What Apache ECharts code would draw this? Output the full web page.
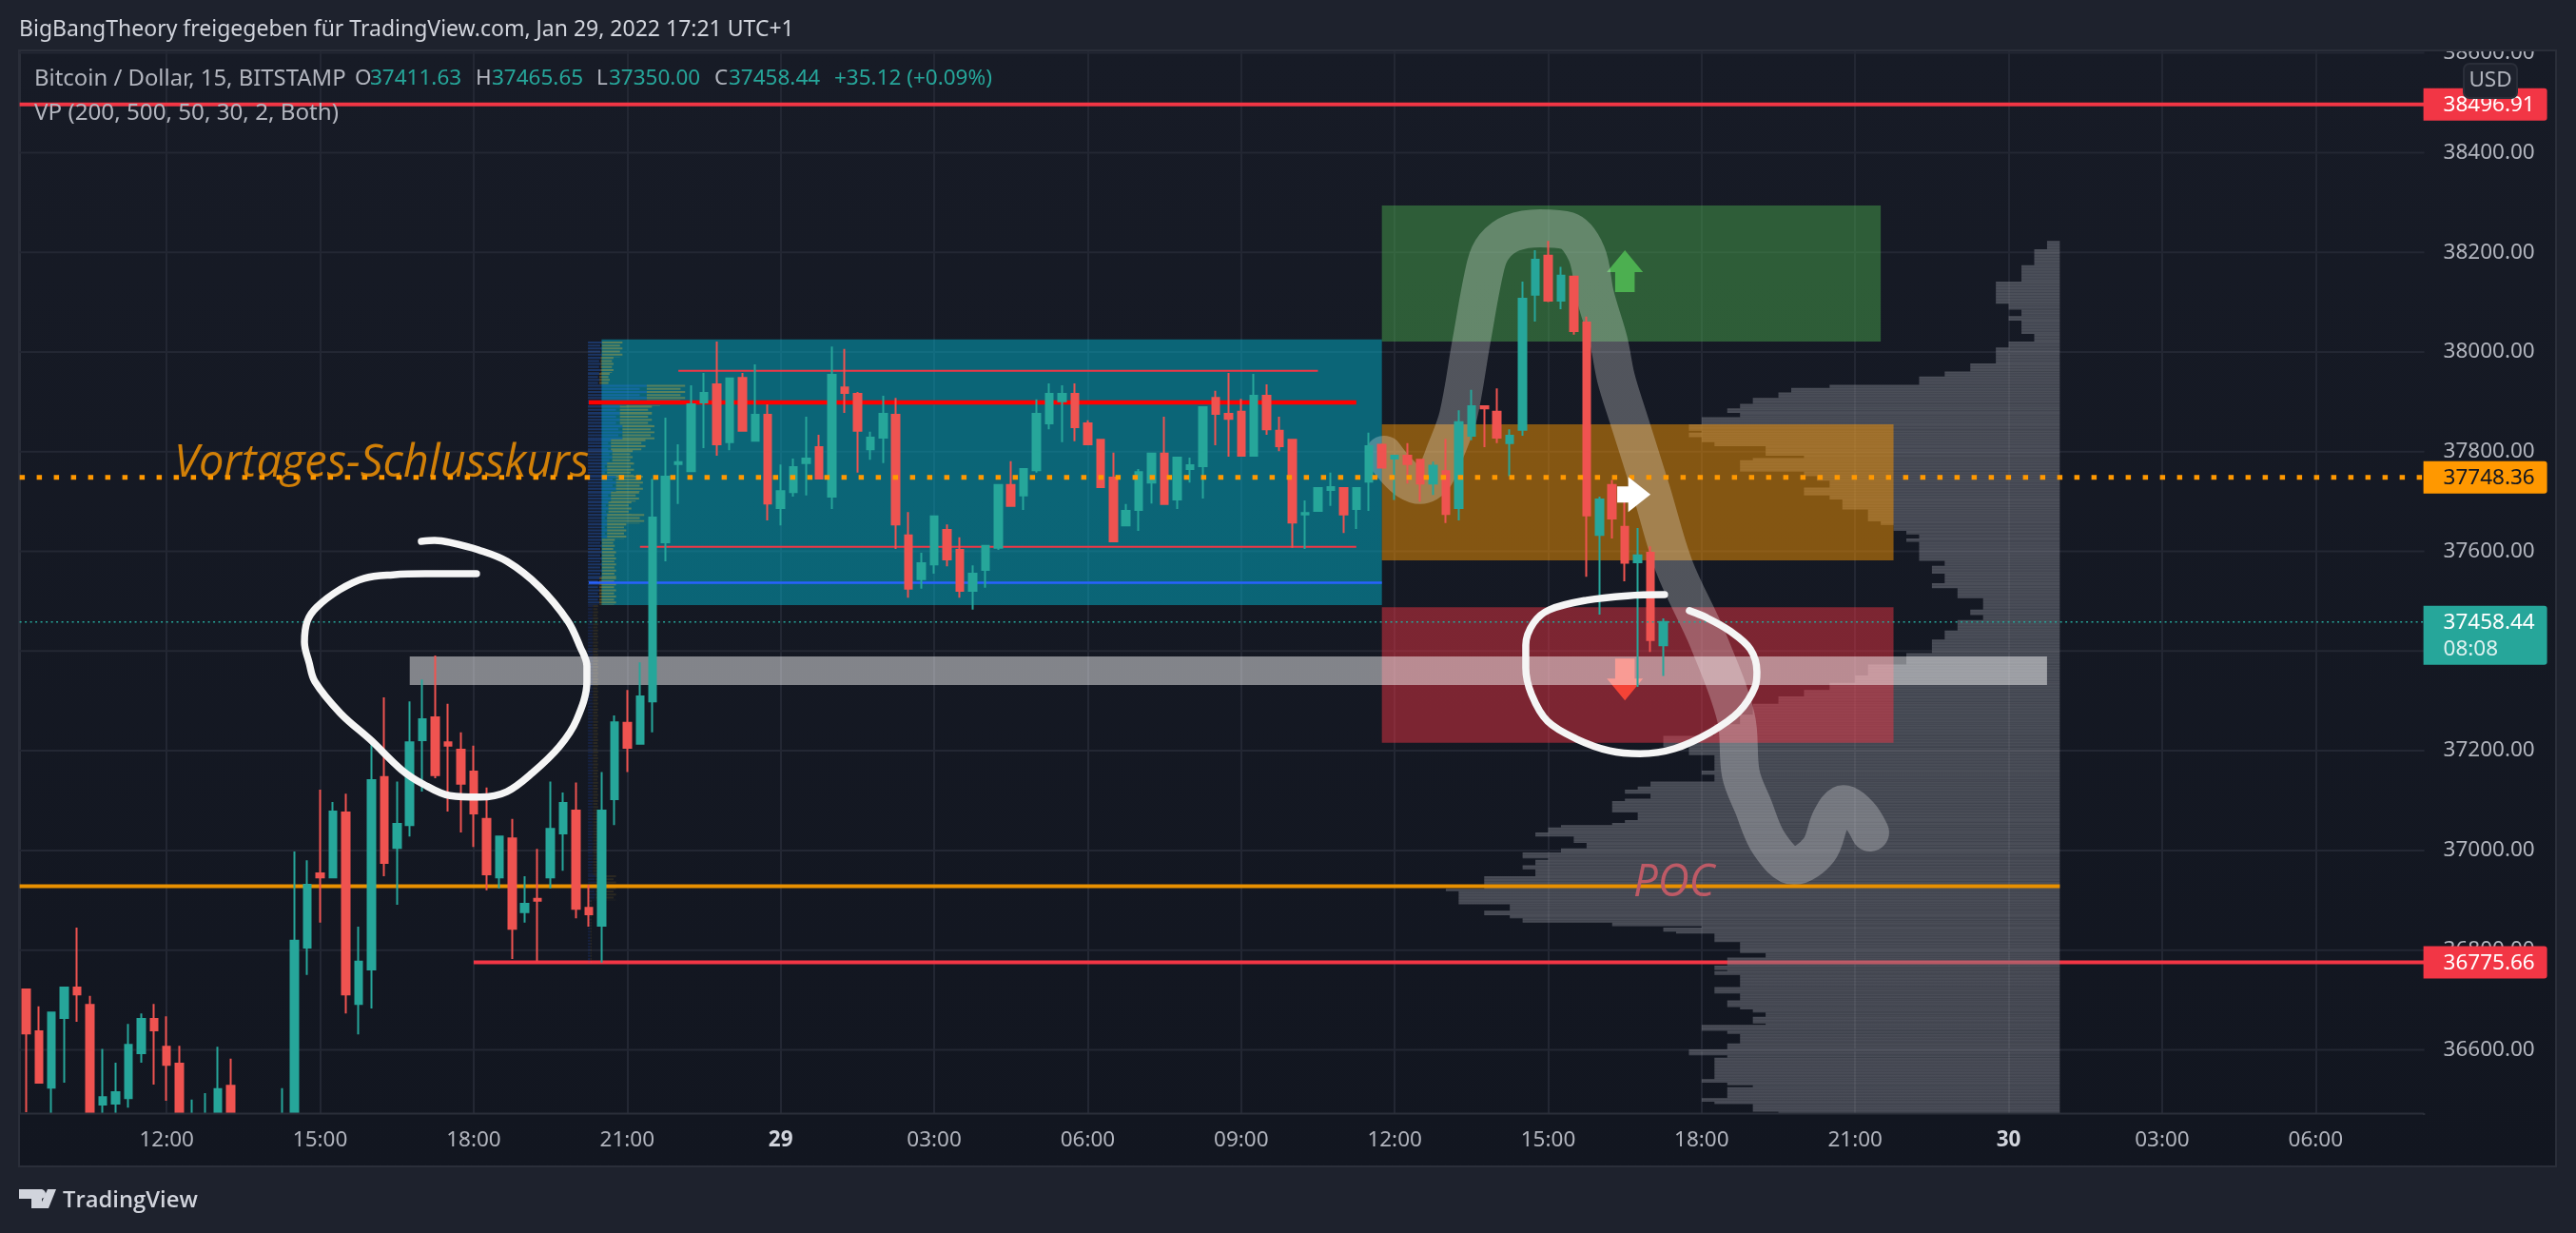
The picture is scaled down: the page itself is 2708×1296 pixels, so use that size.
<!DOCTYPE html>
<html><head><meta charset="utf-8"><title>BTC</title>
<style>html,body{margin:0;padding:0;background:#1e222d}#c{width:2708px;height:1296px}</style>
<script src="https://cdn.jsdelivr.net/npm/echarts@6/dist/echarts.min.js"></script></head>
<body><div id="c"></div>
<script>
// [open, close, low, high], 15-minute bars from Jan 28 09:15 (36468 = runs off the bottom of the pane)
const candles = [
[36721,36633,36475,36723],[36637,36534,36534,36687],[36524,36675,36468,36675],[36664,36725,36534,36725],[36725,36711,36656,36845],
[36690,36468,36468,36708],[36490,36505,36468,36602],[36492,36515,36468,36574],[36503,36610,36484,36652],[36593,36662,36574,36673],
[36662,36639,36530,36692],[36606,36570,36498,36667],[36572,36468,36468,36608],[36468,36469,36468,36500],[36468,36469,36468,36513],
[36468,36521,36468,36606],[36528,36468,36468,36582],[36468,36469,36468,36469],[36469,36468,36468,36469],[36468,36469,36468,36469],
[36468,36469,36468,36523],[36468,36819,36468,36998],[36805,36931,36750,36980],[36954,36946,36855,37122],[36946,37078,36946,37097],
[37076,36711,36673,37114],[36692,36777,36631,36847],[36761,37141,36683,37219],[37147,36975,36948,37307],[37005,37053,36891,37138],
[37051,37217,37028,37299],[37221,37263,37118,37343],[37267,37151,37145,37391],[37217,37210,37078,37294],[37202,37134,37036,37237],
[37158,37074,37007,37210],[37063,36952,36920,37126],[36946,37028,36924,37028],[37024,36843,36782,37063],[36876,36893,36855,36948],
[36903,36899,36778,37003],[36946,37043,36924,37138],[37034,37095,36959,37116],[37080,36883,36864,37136],[36885,36872,36847,36931],
[36849,37080,36775,37157],[37103,37257,37051,37271],[37256,37206,37157,37322],[37214,37309,37214,37377],[37299,37668,37237,37745],
[37618,37750,37580,37868],[37775,37779,37695,37815],[37761,37895,37761,37933],[37899,37918,37807,37958],[37935,37815,37792,38021],
[37819,37947,37803,37948],[37948,37842,37842,37958],[37822,37874,37821,37975],[37874,37696,37662,37895],[37687,37721,37652,37774],
[37719,37769,37710,37786],[37777,37786,37712,37870],[37809,37746,37746,37834],[37710,37954,37685,38011],[37929,37918,37878,38006],
[37916,37842,37758,37920],[37805,37828,37784,37840],[37828,37876,37777,37912],[37874,37654,37605,37908],[37632,37525,37507,37679],
[37544,37576,37525,37597],[37574,37670,37555,37670],[37643,37584,37570,37654],[37603,37521,37507,37628],[37521,37555,37483,37572],
[37563,37611,37527,37611],[37607,37733,37603,37733],[37733,37691,37691,37781],[37712,37765,37683,37765],[37763,37876,37758,37905],
[37857,37916,37845,37937],[37901,37916,37819,37933],[37916,37849,37821,37937],[37857,37815,37815,37863],[37824,37729,37729,37824],
[37748,37620,37620,37798],[37652,37681,37652,37695],[37683,37759,37641,37765],[37738,37796,37696,37796],[37796,37695,37695,37870],
[37704,37788,37685,37790],[37765,37773,37738,37788],[37771,37889,37706,37889],[37908,37876,37813,37922],[37876,37866,37790,37958],
[37880,37792,37792,37906],[37792,37912,37792,37956],[37912,37845,37834,37935],[37842,37811,37801,37870],[37824,37658,37607,37826],
[37674,37677,37605,37702],[37681,37727,37681,37727],[37723,37729,37691,37758],[37727,37674,37637,37727],[37685,37727,37645,37727],
[37740,37811,37681,37838],[37814,37768,37768,37816],[37786,37792,37703,37793],[37792,37775,37736,37817],[37784,37736,37700,37784],
[37736,37772,37713,37780],[37761,37675,37657,37826],[37687,37859,37662,37883],[37832,37891,37823,37924],[37891,37887,37809,37891],
[37880,37828,37817,37927],[37817,37832,37751,37845],[37844,38107,37832,38141],[38115,38185,38061,38204],[38193,38103,38100,38223],
[38103,38153,38086,38171],[38151,38042,38035,38151],[38059,37672,37549,38071],[37633,37704,37473,37710],[37733,37666,37626,37743],
[37649,37577,37540,37700],[37578,37592,37328,37647],[37597,37422,37398,37610],[37411.63,37458.44,37350,37465.65]
];
const slotCount = 188;
const startMinutes = 9*60+15;
const gridPrices = [36600,36800,37000,37200,37400,37600,37800,38000,38200,38400,38600];

// Visible-range volume profile: top price of each step and its length in bars
const vpTops = [38223,38206,38174,38141,38097,38085,38072,38063,38036,38021,38009,37977,37961,37951,37934,37928,37919,37908,37896,37887,37878,37869,37855,37842,37838,37829,37819,37811,37792,37787,37783,37760,37751,37742,37728,37712,37704,37684,37660,37653,37641,37634,37626,37619,37581,37571,37555,37536,37526,37506,37483,37472,37462,37441,37423,37396,37373,37351,37336,37322,37309,37294,37272,37253,37230,37207,37191,37160,37152,37138,37128,37122,37114,37104,37099,37076,37061,37055,37051,37046,37036,37028,37015,37004,36996,36984,36981,36970,36962,36948,36923,36918,36892,36879,36870,36864,36855,36848,36845,36837,36833,36816,36794,36785,36769,36760,36758,36750,36726,36713,36699,36686,36681,36675,36666,36653,36650,36638,36632,36613,36601,36589,36584,36541,36534,36529,36525,36503,36496,36491,36476,36470];
const vpBars = [1,2,3,5,4,3,4,3,2,4,5,7,9,11,18,21,22,24,25,26,25,28,29,28,29,28,27,23,20,24,25,20,19,18,20,18,17,15,14,13,12,11,12,11,9,10,9,10,8,6,7,6,8,9,10,12,15,16,18,20,22,24,25,27,31,29,27,28,27,32,33,34,32,34,35,33,34,35,39,40,41,38,37,39,42,40,41,42,41,45,48,47,43,45,43,42,35,28,31,30,27,25,23,26,27,26,27,25,27,25,26,25,24,23,24,23,28,26,25,26,29,26,27,28,26,24,26,28,27,24,22];

// Session volume profile: top price, up-volume length, total length (bars)
const sessionTops = [38021,37990,37958,37934,37899,37892,37878,37853,37825,37803,37778,37752,37720,37700,37675,37656,37625,37600,37548,37492,36950,36900,36775];
const sessionUp = [1.1,1.0,0.9,4.6,3.0,2.5,2.5,2.7,1.8,1.9,1.5,2.2,1.8,1.6,1.5,1.5,1.1,1.1,0.9,0.4,0.6,0.2];
const sessionAll = [2.7,2.0,1.7,7.6,6.0,5.0,5.0,5.2,4.5,3.5,3.6,4.3,4.0,3.4,4.4,3.0,2.1,2.2,2.2,0.8,2.2,0.3];

// Shaded boxes: first bar, last bar, top price, bottom price
const boxFrom = [45.5,106.5,106.5,106.5,30.5];
const boxTo = [106.5,145.5,146.5,146.5,158.5];
const boxHigh = [38025,38294,37855,37488,37389];
const boxLow = [37492,38021,37582,37216,37332];

// Horizontal levels
const levelPrice = [38496.91,37962,37899,37609,37537,36928,36775.66];
const levelFrom = [0,51.5,44.5,48.5,44.5,0,35.5];
const levelTo = [188,101.5,104.5,104.5,106.5,159.5,188];
const dottedPrice = [37748.36,37458.44];

// Freehand drawings: [bar, price]
const circleLeft = [[35.72,37555],[31.71,37555],[29.18,37553],[26.95,37546],[25.02,37523],[23.23,37488],[22.49,37460],[22.27,37418],[22.64,37376],[23.08,37339],[25.09,37275],[27.47,37221],[29.85,37162],[31.56,37133],[33.64,37110],[36.02,37107],[38.10,37118],[40.11,37156],[42.19,37208],[43.53,37261],[44.35,37339],[44.35,37370],[43.83,37408],[42.86,37460],[40.63,37529],[38.10,37580],[35.87,37603],[33.64,37618],[32.45,37622],[31.41,37620]];
const circleRight = [[128.6,37513],[125.71,37511],[122.51,37502],[119.61,37483],[118.35,37456],[117.75,37412],[117.75,37366],[118.2,37313],[119.46,37259],[121.77,37223],[124.3,37200],[126.68,37194],[129.35,37204],[132.25,37238],[134.41,37278],[135.67,37328],[135.82,37358],[135.3,37404],[133.67,37441],[131.88,37467],[130.54,37481]];
const grayCurve = [[106.67,37794],[107.56,37765],[108.53,37742],[109.5,37733],[110.54,37748],[111.5,37803],[112.47,37872],[113.51,38023],[114.62,38174],[115.29,38212],[116.71,38239],[118.87,38248],[121.02,38243],[122.51,38197],[123.18,38113],[124.22,38023],[124.81,37947],[125.71,37872],[127.57,37721],[129.35,37570],[132.03,37420],[134.18,37267],[134.56,37154],[135.52,37089],[136.79,37013],[138.72,36969],[140.66,37001],[141.62,37064],[142.59,37093],[143.85,37070],[144.67,37036]];

// Arrow markers: [bar, price]
const arrowUp = [125.5,38162];
const arrowRight = [126.2,37714];
const arrowDown = [125.5,37343];

const tagPrices = [38496.91,37748.36,37458.44,36775.66];
const tagTexts = ['38496.91','37748.36','37458.44','36775.66'];
const quote = ['37411.63','37465.65','37350.00','37458.44','+35.12 (+0.09%)'];

const UI='"Noto Sans", sans-serif';
const cats=[];for(let i=0;i<slotCount;i++){const m=startMinutes+i*15;const d=28+Math.floor(m/1440);const mm=m%1440;cats.push(d+' '+String(Math.floor(mm/60)).padStart(2,'0')+':'+String(mm%60).padStart(2,'0'));}
const isTick=i=>(i-11)%12===0;

function stripes(x,w,y0,y1,pitch,fill,out,shift){let k=0;for(let y=y0;y<y1;y+=pitch,k++){out.push({type:'rect',shape:{x:x,y:y,width:shift&&k%2?w*0.88:w,height:Math.min(pitch*0.62,y1-y)},style:{fill:fill}});}}

const boxColors=['rgba(0,188,212,0.47)','rgba(76,175,80,0.45)','rgba(255,152,0,0.48)','rgba(242,54,69,0.47)','rgba(255,255,255,0.47)'];
const boxData=boxFrom.map((b,i)=>[b,boxTo[i],boxHigh[i],boxLow[i],i]);
const boxSeries=(idx,z)=>({type:'custom',xAxisIndex:1,yAxisIndex:0,z:z,silent:true,clip:true,data:idx.map(i=>boxData[i]),
 renderItem(p,api){const a=api.coord([api.value(0),api.value(2)]),b=api.coord([api.value(1),api.value(3)]);return {type:'rect',shape:{x:a[0],y:a[1],width:b[0]-a[0],height:b[1]-a[1]},style:{fill:boxColors[api.value(4)]}};}});

const vpData=vpBars.map((n,i)=>[159.5-n,159.5,vpTops[i],vpTops[i+1]]);
const sessionData=sessionUp.map((u,i)=>[44.43,u,sessionAll[i],sessionTops[i],sessionTops[i+1]]);

const lineColors=['#f23645','#f23645','#ff0000','#f23645','#2962ff','#e89000','#f23645'];
const lineWidths=[4,2,4.5,2,2.5,4,4];
const lineZ=[6,6,6,6,6,6,0.5];
const gridSeries=gridPrices.map(p=>({type:'line',xAxisIndex:1,yAxisIndex:0,z:0.2,silent:true,showSymbol:false,data:[[0,p],[188,p]],lineStyle:{color:'#232733',width:2}}));
const levelSeries=levelPrice.map((p,i)=>({type:'line',xAxisIndex:1,yAxisIndex:0,z:lineZ[i],silent:true,showSymbol:false,animation:false,data:[[levelFrom[i],p],[levelTo[i],p]],lineStyle:{color:lineColors[i],width:lineWidths[i]}}));
const dotStyles=[{color:'#ff9800',width:5,type:[5.5,12.5]},{color:'#26a69a',width:1.5,type:[2,3.5]}];
const dotSeries=dottedPrice.map((p,i)=>({type:'line',xAxisIndex:1,yAxisIndex:0,z:8,silent:true,showSymbol:false,data:[[0,p],[188,p]],lineStyle:dotStyles[i]}));

const freehand=(pts,color,width,z)=>({type:'line',xAxisIndex:1,yAxisIndex:0,z:z,silent:true,showSymbol:false,smooth:0.35,data:pts,lineStyle:{color:color,width:width,cap:'round',join:'round'}});
const marker=(pt,path,size,color,z)=>({type:'scatter',xAxisIndex:1,yAxisIndex:0,z:z,silent:true,data:[pt],symbol:path,symbolSize:size,itemStyle:{color:color,opacity:1}});
const note=(pt,text,style)=>({type:'scatter',xAxisIndex:1,yAxisIndex:0,z:10,silent:true,data:[pt],symbolSize:0,label:Object.assign({show:true,position:'right',distance:0,formatter:text,fontStyle:'italic'},style)});

const tagColor=['#f23645','#ff9800','#26a69a','#f23645'];
const tagText=['#ffffff','#131722','#ffffff','#ffffff'];

const chart=echarts.init(document.getElementById('c'),null,{renderer:'canvas'});
const g=[];
g.push({type:'rect',z:-10,silent:true,shape:{x:20,y:53,width:2667,height:1173},style:{fill:{type:'linear',x:0,y:0,x2:0,y2:1,colorStops:[{offset:0,color:'#171b26'},{offset:1,color:'#121620'}]},stroke:'#2a2e39',lineWidth:2}});
g.push({type:'rect',z:50,silent:true,shape:{x:0,y:0,width:2708,height:52},style:{fill:'#1e222d'}});
g.push({type:'line',z:51,silent:true,shape:{x1:20,y1:53,x2:2687,y2:53},style:{stroke:'#2a2e39',lineWidth:2}});
// keeps off-pane candle ends out of the time scale strip
g.push({type:'rect',z:7.5,silent:true,shape:{x:21,y:1171,width:2526,height:8},style:{fill:'#121620'}});
g.push({type:'line',z:7.6,silent:true,shape:{x1:20,y1:1170.5,x2:2548,y2:1170.5},style:{stroke:'#2a2e39',lineWidth:2}});
const txt=(x,y,text,size,color,extra)=>g.push({type:'text',z:60,silent:true,x:x,y:y,style:Object.assign({text:text,fontFamily:UI,fontSize:size,fill:color,verticalAlign:'middle'},extra||{})});
txt(20,31,'BigBangTheory freigegeben für TradingView.com, Jan 29, 2022 17:21 UTC+1',23,'#d1d4dc');
txt(36,83,'Bitcoin / Dollar, 15, BITSTAMP',23.9,'#b2b5be');
txt(36,119,'VP (200, 500, 50, 30, 2, Both)',24.2,'#b2b5be');
[['O',373,389],['H',500,517],['L',627,640],['C',751,766]].forEach((q,i)=>{txt(q[1],83,q[0],22.5,'#b2b5be');txt(q[2],83,quote[i],22.5,'#26a69a');});
txt(877,83,quote[4],22.5,'#26a69a');
// USD chip
g.push({type:'rect',z:70,silent:true,shape:{x:2590,y:67,width:56,height:36,r:6},style:{fill:'#1e222d',stroke:'#2a2e39',lineWidth:2}});
txt(2618,85,'USD',22.5,'#b2b5be',{align:'center'});
g[g.length-1].z=71;
// logo
g.push({type:'polygon',z:60,silent:true,shape:{points:[[20,1250],[44,1250],[44,1270],[33,1270],[33,1260],[20,1260]]},style:{fill:'#d1d4dc'}});
g.push({type:'circle',z:60,silent:true,shape:{cx:43,cy:1255,r:5},style:{fill:'#d1d4dc'}});
g.push({type:'polygon',z:60,silent:true,shape:{points:[[50,1250],[59,1250],[51,1270],[41,1270]]},style:{fill:'#d1d4dc'}});
txt(66,1262,'TradingView',23.8,'#d1d4dc',{fontFamily:'"Open Sans", sans-serif',fontWeight:600});

chart.setOption({
 animation:false,backgroundColor:'#1e222d',
 grid:{left:20.6,top:53,width:2528,height:1117.5,containLabel:false},
 graphic:{elements:g},
 xAxis:[
  {type:'category',data:cats,boundaryGap:true,position:'bottom',
   axisLine:{lineStyle:{color:'#2a2e39',width:2}},axisTick:{show:false,alignWithLabel:true},
   splitLine:{show:true,alignWithLabel:true,interval:i=>isTick(i),lineStyle:{color:'#232733',width:2}},
   axisLabel:{interval:i=>isTick(i),margin:17,color:'#b2b5be',fontFamily:UI,fontSize:22.5,hideOverlap:false,
     formatter:v=>{const t=v.slice(-5);return t==='00:00'?'{b|'+v.slice(0,2)+'}':t;},rich:{b:{fontWeight:'bold',fontSize:22.5,color:'#d1d4dc',fontFamily:UI}}}},
  {type:'value',min:0,max:slotCount,show:false,splitLine:{show:false},axisLabel:{show:false},axisTick:{show:false},axisLine:{show:false}}
 ],
 yAxis:{type:'value',position:'right',min:36472,max:38605,
  axisLine:{show:true,lineStyle:{color:'#2a2e39',width:2}},axisTick:{show:false},
  splitLine:{show:false},
  axisLabel:{color:'#b2b5be',fontFamily:UI,fontSize:22.5,margin:20,customValues:gridPrices,formatter:v=>Number(v).toFixed(2)}},
 series:[
  ...gridSeries,
  {type:'custom',xAxisIndex:1,yAxisIndex:0,z:1,silent:true,clip:true,data:vpData,renderItem(p,api){
     const a=api.coord([api.value(0),api.value(2)]),b=api.coord([api.value(1),api.value(3)]);
     const out=[{type:'rect',shape:{x:a[0],y:a[1],width:b[0]-a[0],height:b[1]-a[1]},style:{fill:'rgba(120,123,134,0.46)'}}];
     stripes(a[0],b[0]-a[0],a[1],b[1],3,'rgba(255,255,255,0.05)',out);
     return {type:'group',children:out};}},
  {type:'custom',xAxisIndex:1,yAxisIndex:0,z:2.5,silent:true,clip:true,data:sessionData,renderItem(p,api){
     const base=api.value(0);
     const a=api.coord([base,api.value(3)]),b=api.coord([base+api.value(1),api.value(4)]),c=api.coord([base+api.value(2),api.value(4)]);
     const faint=api.value(3)<37500;const out=[];
     stripes(a[0],b[0]-a[0],a[1],b[1],3.2,faint?'rgba(41,98,255,0.14)':'rgba(41,120,255,0.3)',out,true);
     stripes(b[0],c[0]-b[0],a[1],b[1],3.2,faint?'rgba(251,192,45,0.1)':'rgba(251,192,45,0.32)',out,true);
     return {type:'group',children:out};}},
  boxSeries([0,1,2,3],2),
  marker(arrowUp,'path://M50 0 L100 52 L77 52 L77 100 L23 100 L23 52 L0 52 Z',[38,44],'#4caf50',3),
  marker(arrowRight,'path://M0 27 L33 27 L33 0 L100 50 L33 100 L33 73 L0 73 Z',[35,37],'#ffffff',11),
  marker(arrowDown,'path://M23 0 L77 0 L77 48 L100 48 L50 100 L0 48 L23 48 Z',[38,44],'#f44336',3),
  boxSeries([4],4),
  freehand(grayCurve,'rgba(255,255,255,0.26)',40,5),
  ...levelSeries,
  {type:'candlestick',xAxisIndex:0,yAxisIndex:0,z:7,silent:true,barWidth:8,data:candles,
   itemStyle:{color:'#26a69a',color0:'#ef5350',borderColor:'#26a69a',borderColor0:'#ef5350',borderWidth:2}},
  ...dotSeries,
  freehand(circleLeft,'#f5f5f5',7.5,9),
  freehand(circleRight,'#f5f5f5',7.5,9),
  note([12.08,37775],'Vortages-Schlusskurs',{color:'#ff9800',fontSize:47,fontWeight:500,fontFamily:'"Open Sans", sans-serif'}),
  {type:'custom',xAxisIndex:1,yAxisIndex:0,z:10,silent:true,clip:false,data:[[126.15,36935]],renderItem(p,api){
     const c=api.coord([api.value(0),api.value(1)]);
     return {type:'text',x:c[0],y:c[1],scaleX:0.95,style:{text:'POC',fontFamily:'"Open Sans", sans-serif',fontStyle:'italic',fontSize:48,fill:'#bd5a66',verticalAlign:'middle'}};}},
  {type:'custom',xAxisIndex:1,yAxisIndex:0,z:12,silent:true,clip:false,data:tagPrices.map((p,i)=>[188,p,i]),renderItem(pa,api){
     const i=api.value(2),c=api.coord([188,api.value(1)]);
     const two=i===2;const top=c[1]-17,h=two?62:34;
     const kids=[{type:'rect',shape:{x:c[0]-1,y:top,width:130,height:h,r:[0,3,3,0]},style:{fill:tagColor[i]}},
       {type:'text',x:c[0]+20,y:c[1]+1,style:{text:tagTexts[i],fontFamily:UI,fontSize:22.5,fill:tagText[i],verticalAlign:'middle'}}];
     if(two)kids.push({type:'text',x:c[0]+20,y:c[1]+29,style:{text:'08:08',fontFamily:UI,fontSize:22.5,fill:'#ffffff',opacity:.85,verticalAlign:'middle'}});
     return {type:'group',children:kids};}}
 ]
});
</script></body></html>
